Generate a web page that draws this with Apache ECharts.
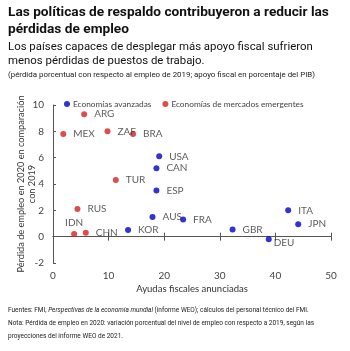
<!DOCTYPE html>
<html><head><meta charset="utf-8">
<script src="https://cdn.jsdelivr.net/npm/echarts@6/dist/echarts.min.js"></script>
<style>html,body{margin:0;padding:0;background:#fff}#c{width:350px;height:351px}</style>
</head><body><div id="c"></div>
<script>
// Data
const advNames = ['USA','CAN','ESP','AUS','KOR','FRA','GBR','DEU','ITA','JPN'];
const advFiscal = [19.1, 18.6, 18.6, 17.9, 13.5, 23.4, 32.3, 38.8, 42.3, 44.1];
const advJobLoss = [6.1, 5.2, 3.5, 1.5, 0.5, 1.3, 0.55, -0.2, 2.0, 0.95];
const emNames = ['ARG','MEX','ZAF','BRA','TUR','RUS','IDN','CHN'];
const emFiscal = [5.6, 1.85, 9.8, 14.4, 11.3, 4.4, 3.8, 5.9];
const emJobLoss = [9.3, 7.8, 8.0, 7.8, 4.3, 2.1, 0.2, 0.3];
const xTicks = [0, 10, 20, 30, 40, 50];
const yTicks = [-2, 0, 2, 4, 6, 8, 10];

function build(names, xs, ys) {
  return names.map((n, i) => {
    const d = {name: n, value: [xs[i], ys[i]]};
    if (n === 'IDN') d.label = {position: 'top', distance: 3};
    if (n === 'DEU') d.label = {position: [8, 1]};
    return d;
  });
}

const chart = echarts.init(document.getElementById('c'), null, {renderer: 'canvas'});
const font = 'Lato, Open Sans, sans-serif';
const tfont = 'Roboto, Liberation Sans, sans-serif';
const axisColor = '#555';
const common = {min: 0, max: 50, interval: 10, splitLine: {show: false}};
chart.setOption({
  animation: false,
  title: [
    {text: 'Las políticas de respaldo contribuyeron a reducir las\npérdidas de empleo', left: 8, top: 4, padding: 0,
     textStyle: {fontFamily: tfont, fontWeight: 'bold', fontSize: 13.7, lineHeight: 17, color: '#111'}},
    {text: 'Los países capaces de desplegar más apoyo fiscal sufrieron\nmenos pérdidas de puestos de trabajo.', left: 8, top: 40, padding: 0,
     textStyle: {fontFamily: tfont, fontWeight: 'normal', fontSize: 11.4, lineHeight: 14, color: '#111'}},
    {text: '(pérdida porcentual con respecto al empleo de 2019; apoyo fiscal en porcentaje del PIB)', left: 8, top: 71, padding: 0,
     textStyle: {fontFamily: tfont, fontWeight: 'normal', fontSize: 7.9, color: '#222'}},
    {text: 'Fuentes: FMI, {i|Perspectivas de la economía mundial} (informe WEO); cálculos del personal técnico del FMI.\nNota: Pérdida de empleo en 2020: variación porcentual del nivel de empleo con respecto a 2019, según las\nproyecciones del informe WEO de 2021.',
     left: 8, top: 303.5, padding: 0,
     textStyle: {fontFamily: tfont, fontWeight: 'normal', fontSize: 6.5, lineHeight: 13, color: '#222',
       rich: {i: {fontStyle: 'italic', fontFamily: tfont, fontSize: 6.5, color: '#222'}}}}
  ],
  legend: {
    left: 64, top: 100, itemWidth: 6, itemHeight: 6, itemGap: 11, icon: 'circle', padding: 0,
    textStyle: {fontFamily: font, fontSize: 8.3, color: '#444', padding: [0, 0, 0, -2]},
    data: ['Economías avanzadas', 'Economías de mercados emergentes']
  },
  grid: {left: 53, right: 19, top: 105, bottom: 88, containLabel: false, outerBoundsMode: 'none'},
  xAxis: [
    Object.assign({type: 'value', axisLine: {onZero: true, onZeroAxisIndex: 0, lineStyle: {color: axisColor}},
      axisTick: {inside: false, length: 4, lineStyle: {color: axisColor}}, axisLabel: {show: false}}, common),
    Object.assign({type: 'value', position: 'bottom', axisLine: {onZero: true, onZeroAxisIndex: 0, lineStyle: {color: axisColor}},
      axisTick: {inside: true, length: 4, lineStyle: {color: axisColor}}, axisLabel: {show: false}}, common),
    Object.assign({type: 'value', position: 'bottom', offset: 4, axisLine: {show: false, onZero: false},
      axisTick: {show: false},
      axisLabel: {fontFamily: font, fontSize: 10, color: '#444', margin: 4, formatter: v => xTicks.includes(v) ? String(v) : ''},
      name: 'Ayudas fiscales anunciadas', nameLocation: 'middle', nameGap: 17, nameMoveOverlap: false,
      nameTextStyle: {fontFamily: font, fontSize: 9.5, color: '#333'}}, common)
  ],
  yAxis: {
    type: 'value', min: -2, max: 10, interval: 2,
    axisLine: {show: true, onZero: false, lineStyle: {color: axisColor}},
    axisTick: {show: true, inside: true, length: 3, lineStyle: {color: axisColor}},
    splitLine: {show: false},
    axisLabel: {fontFamily: font, fontSize: 10, color: '#444', margin: 9, formatter: v => yTicks.includes(v) ? String(v) : ''},
    name: 'Pérdida de empleo en 2020 en comparación\ncon 2019', nameLocation: 'middle', nameGap: 15, nameMoveOverlap: false,
    nameTextStyle: {fontFamily: font, fontSize: 9.2, color: '#333', lineHeight: 11.5}
  },
  series: [
    {name: 'Economías avanzadas', type: 'scatter', xAxisIndex: 0, symbolSize: 6,
     itemStyle: {color: '#0000c8'},
     label: {show: true, position: 'right', distance: 7, formatter: '{b}', fontFamily: font, fontSize: 10, color: '#333'},
     data: build(advNames, advFiscal, advJobLoss)},
    {name: 'Economías de mercados emergentes', type: 'scatter', xAxisIndex: 0, symbolSize: 6,
     itemStyle: {color: '#d42020'},
     label: {show: true, position: 'right', distance: 7, formatter: '{b}', fontFamily: font, fontSize: 10, color: '#333'},
     data: build(emNames, emFiscal, emJobLoss)}
  ]
});
</script></body></html>
